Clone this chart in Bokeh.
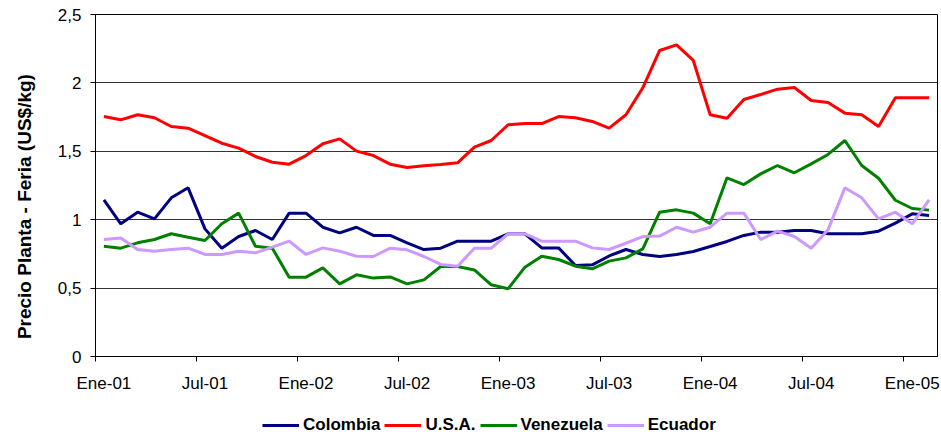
from bokeh.plotting import figure
from bokeh.layouts import column
from bokeh.models import (Range1d, FixedTicker, CustomJSTickFormatter, Legend,
                          LegendItem)
from bokeh.embed import file_html
from bokeh.resources import INLINE

# Monthly series, Ene-01 .. Feb-05 (50 months), US$/kg
tick_labels = ["Ene-01", "Jul-01", "Ene-02", "Jul-02", "Ene-03",
               "Jul-03", "Ene-04", "Jul-04", "Ene-05"]

colombia = [1.145, 0.970, 1.055, 1.006, 1.160, 1.233, 0.933, 0.792, 0.877, 0.921,
            0.855, 1.048, 1.048, 0.945, 0.904, 0.945, 0.885, 0.885, 0.831, 0.782,
            0.792, 0.843, 0.843, 0.843, 0.897, 0.897, 0.794, 0.794, 0.665, 0.670,
            0.735, 0.782, 0.746, 0.731, 0.746, 0.768, 0.804, 0.841, 0.885, 0.909,
            0.909, 0.921, 0.921, 0.897, 0.897, 0.897, 0.916, 0.975, 1.043, 1.031]

usa = [1.754, 1.730, 1.767, 1.745, 1.681, 1.669, 1.615, 1.559, 1.523, 1.462,
       1.420, 1.406, 1.469, 1.555, 1.591, 1.501, 1.469, 1.406, 1.382, 1.394,
       1.404, 1.416, 1.530, 1.579, 1.694, 1.703, 1.703, 1.754, 1.745, 1.718,
       1.669, 1.767, 1.964, 2.237, 2.278, 2.164, 1.767, 1.742, 1.879, 1.915,
       1.954, 1.966, 1.871, 1.857, 1.779, 1.767, 1.681, 1.891, 1.891, 1.891]

venezuela = [0.806, 0.792, 0.831, 0.855, 0.897, 0.872, 0.848, 0.970, 1.048, 0.806,
             0.792, 0.580, 0.580, 0.648, 0.531, 0.597, 0.573, 0.582, 0.531, 0.560,
             0.658, 0.658, 0.633, 0.524, 0.495, 0.653, 0.733, 0.709, 0.660, 0.641,
             0.697, 0.721, 0.787, 1.055, 1.072, 1.048, 0.970, 1.306, 1.257, 1.335,
             1.396, 1.343, 1.408, 1.477, 1.579, 1.396, 1.303, 1.142, 1.082, 1.070]

ecuador = [0.855, 0.867, 0.782, 0.770, 0.782, 0.792, 0.746, 0.746, 0.770, 0.758,
           0.799, 0.843, 0.746, 0.794, 0.770, 0.733, 0.731, 0.792, 0.780, 0.731,
           0.673, 0.660, 0.792, 0.792, 0.897, 0.897, 0.843, 0.843, 0.843, 0.794,
           0.782, 0.828, 0.877, 0.880, 0.945, 0.909, 0.945, 1.048, 1.048, 0.855,
           0.916, 0.877, 0.792, 0.926, 1.233, 1.160, 1.006, 1.055, 0.970, 1.145]

series = [("Colombia", colombia, "#000080"),
          ("U.S.A.", usa, "#FF0000"),
          ("Venezuela", venezuela, "#008000"),
          ("Ecuador", ecuador, "#CC99FF")]

n = len(usa)
x = [i + 0.5 for i in range(n)]   # each month centred in its slot

FONT = "Liberation Sans"
W = 941

p = figure(width=W, height=405, output_backend="svg", toolbar_location=None,
           x_range=Range1d(0, n), y_range=Range1d(0, 2.5),
           min_border_left=95, min_border_right=4, min_border_top=14,
           min_border_bottom=49, background_fill_color="white",
           border_fill_color="white")

for name, vals, col in series:
    p.line(x, vals, line_color=col, line_width=3)

# x axis: labels centred on months, tick marks at month boundaries
p.xaxis.ticker = FixedTicker(ticks=[0.5 + 6 * k for k in range(len(tick_labels))],
                             minor_ticks=[6 * k for k in range(len(tick_labels))])
p.xaxis.formatter = CustomJSTickFormatter(args=dict(labs=tick_labels),
                                          code="return labs[Math.round((tick - 0.5) / 6)];")
p.xaxis.major_tick_out = 0
p.xaxis.major_tick_in = 0
p.xaxis.minor_tick_out = 5
p.xaxis.minor_tick_in = 0
p.xaxis.minor_tick_line_color = "black"
p.xaxis.major_label_standoff = 12

p.yaxis.ticker = FixedTicker(ticks=[0, 0.5, 1, 1.5, 2, 2.5])
p.yaxis.formatter = CustomJSTickFormatter(code="return tick.toString().replace('.', ',');")
p.yaxis.major_tick_out = 5
p.yaxis.major_tick_in = 0
p.yaxis.minor_tick_line_color = None
p.yaxis.major_label_standoff = 9

# axis title (trailing no-break spaces shift it below the frame centre, as in the original)
p.yaxis.axis_label = "Precio Planta - Feria (US$/kg)" + "\u00a0" * 8
p.yaxis.axis_label_standoff = 20
p.yaxis.axis_label_text_font = FONT
p.yaxis.axis_label_text_font_style = "bold"
p.yaxis.axis_label_text_font_size = "19px"
p.yaxis.axis_label_text_color = "black"

for ax in (p.xaxis, p.yaxis):
    ax.axis_line_color = "black"
    ax.major_tick_line_color = "black"
    ax.major_label_text_font = FONT
    ax.major_label_text_font_size = "17px"
    ax.major_label_text_color = "black"

p.xgrid.visible = False
p.ygrid.grid_line_color = "#333333"
p.ygrid.grid_line_width = 1
p.outline_line_color = "black"
p.outline_line_width = 1
p.outline_line_alpha = 1

# legend strip below the chart (series drawn off-range, only their legend glyphs show)
leg = figure(width=W, height=30, output_backend="svg", toolbar_location=None,
             x_range=Range1d(0, n), y_range=Range1d(10, 11),
             x_axis_location=None, y_axis_location=None, min_border=0,
             outline_line_color=None, background_fill_color="white",
             border_fill_color="white")
leg.grid.visible = False
items = []
for name, vals, col in series:
    r = leg.line(x, vals, line_color=col, line_width=3)
    items.append(LegendItem(label=name, renderers=[r]))

legend = Legend(items=items, orientation="horizontal", location=(167, 0),
                glyph_width=37, glyph_height=20, label_standoff=4, spacing=4,
                padding=0, margin=0, border_line_color=None, background_fill_alpha=0,
                label_text_font=FONT, label_text_font_style="bold",
                label_text_font_size="17px", label_text_color="black")
leg.add_layout(legend)

open("out.html", "w").write(file_html(column(p, leg, spacing=0), INLINE))
